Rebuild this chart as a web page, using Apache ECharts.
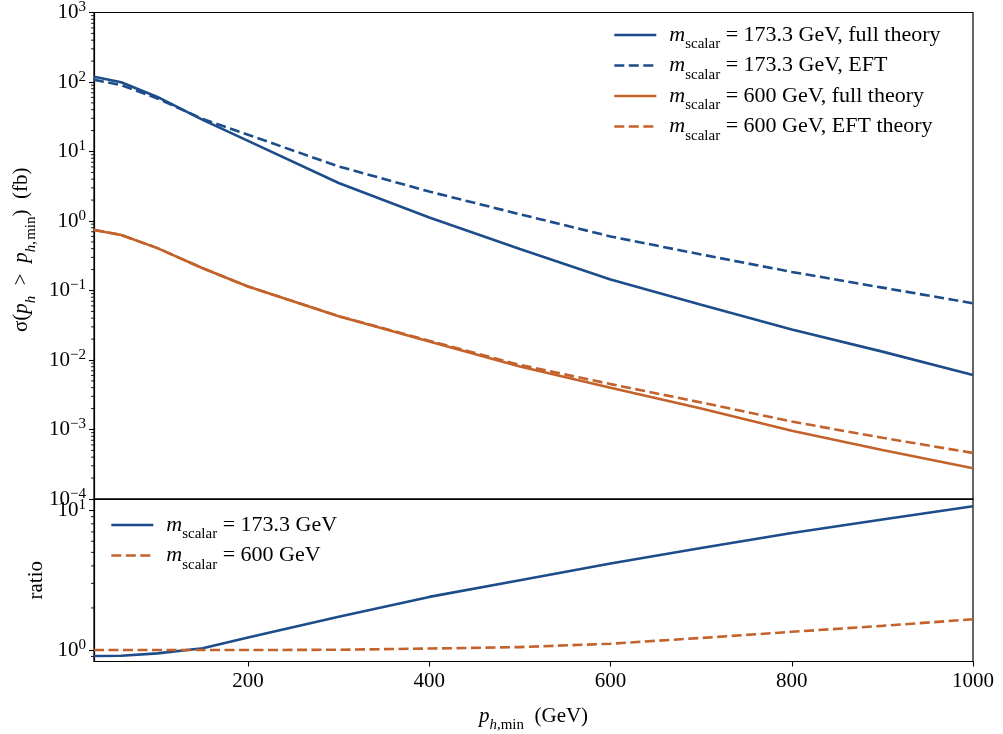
<!DOCTYPE html>
<html><head><meta charset="utf-8">
<script src="https://cdn.jsdelivr.net/npm/echarts@6/dist/echarts.min.js"></script>
<style>html,body{margin:0;padding:0;background:#fff}#c{width:1003px;height:734px}</style>
</head><body><div id="c"></div>
<script>
// ---- data ----
const pT = [30, 60, 100, 150, 200, 300, 400, 500, 600, 700, 800, 900, 1000];
const blueFull   = [119, 99, 61, 28.5, 14.2, 3.52, 1.12, 0.395, 0.144, 0.0625, 0.0275, 0.0132, 0.0061];
const blueEFT    = [108, 90, 58, 29.3, 17.4, 6.1, 2.65, 1.25, 0.60, 0.33, 0.185, 0.110, 0.0655];
const orangeFull = [0.744, 0.63, 0.407, 0.209, 0.114, 0.0427, 0.0184, 0.00807, 0.0040, 0.00201, 0.00096, 0.000507, 0.000277];
const orangeEFT  = [0.745, 0.63, 0.407, 0.209, 0.114, 0.0428, 0.0189, 0.0085, 0.0045, 0.00245, 0.0013, 0.00076, 0.00046];
const ratioBlue   = [0.906, 0.91, 0.947, 1.03, 1.23, 1.73, 2.40, 3.16, 4.16, 5.37, 6.88, 8.6, 10.7];
const ratioOrange = [1.0, 1.0, 1.0, 1.0, 1.0, 1.005, 1.025, 1.05, 1.11, 1.22, 1.35, 1.49, 1.66];
const xTicks = [200, 400, 600, 800, 1000];
const legendTop = {
  bf: '173.3 GeV, full theory',
  be: '173.3 GeV, EFT',
  of: '600 GeV, full theory',
  oe: '600 GeV, EFT theory'
};
const legendBottom = { rb: '173.3 GeV', ro: '600 GeV' };

// ---- styling ----
const F = '"Liberation Serif", "DejaVu Serif", serif';
const BLUE = '#1c4c89';
const ORANGE = '#c3622b';
const LW = 2.6;
const DASH = [10, 4.5];
const FS = 21;
const LFS = 22;

function zip(xs, ys) { return xs.map((x, i) => [x, ys[i]]); }

function makeRich(fs) {
  const ss = Math.round(fs * 0.7);
  return {
    b: { fontFamily: F, fontSize: fs, color: '#000', lineHeight: fs + 4 },
    s: { fontFamily: F, fontSize: ss, color: '#000', verticalAlign: 'top', lineHeight: ss },
    i: { fontFamily: F, fontSize: fs, fontStyle: 'italic', color: '#000' },
    sub: { fontFamily: F, fontSize: ss, color: '#000', verticalAlign: 'bottom', lineHeight: ss, padding: [0, 0, -6, 0] },
    subi: { fontFamily: F, fontSize: ss, fontStyle: 'italic', color: '#000', verticalAlign: 'bottom', lineHeight: ss, padding: [0, 0, -6, 0] },
    t: { fontFamily: F, fontSize: fs, color: '#000' }
  };
}
const richTick = makeRich(FS);
const richLeg = makeRich(LFS);

function powLabel(v) {
  const l = Math.log10(v);
  const n = Math.round(l);
  if (Math.abs(l - n) > 1e-6) return '';
  const e = n < 0 ? '\u2212' + (-n) : '' + n;
  return '{b|10}{s|' + e + '}';
}

function minorVals(lo, hi) {
  const out = [];
  for (let n = lo; n <= hi; n++) {
    for (let k = 2; k <= 9; k++) out.push(k * Math.pow(10, n));
  }
  return out;
}
const minorTop = minorVals(-4, 2).map(v => [30, v]);
const minorBot = [0.9].concat(minorVals(0, 0)).map(v => [30, v]);

function tickRender(params, api) {
  const p = api.coord([api.value(0), api.value(1)]);
  return {
    type: 'line',
    shape: { x1: p[0] - 3, y1: p[1], x2: p[0], y2: p[1] },
    style: { stroke: '#000', lineWidth: 0.9 }
  };
}

const axisLineStyle = { show: true, lineStyle: { color: '#000', width: 1.2 } };
const tickStyle = { show: true, inside: false, length: 5, lineStyle: { color: '#000', width: 1.1 } };

const option = {
  animation: false,
  backgroundColor: '#fff',
  grid: [
    { left: 94, right: 30, top: 8, height: 491, show: true, borderColor: '#000', borderWidth: 1.2, backgroundColor: 'transparent' },
    { left: 94, right: 30, top: 499, height: 162.5, show: true, borderColor: '#000', borderWidth: 1.2, backgroundColor: 'transparent' }
  ],
  xAxis: [
    { gridIndex: 0, type: 'value', min: 30, max: 1000, axisLine: axisLineStyle,
      axisLabel: { show: false }, axisTick: { show: false }, splitLine: { show: false } },
    { gridIndex: 1, type: 'value', min: 30, max: 1000, axisLine: axisLineStyle,
      axisTick: tickStyle,
      axisLabel: { color: '#000', fontFamily: F, fontSize: FS, margin: 9, showMinLabel: false,
        formatter: v => xTicks.indexOf(v) >= 0 ? String(v) : '' },
      splitLine: { show: false },
      name: '{i|p}{subi|h}{sub|,min}{t|\u2002(GeV)}', nameLocation: 'middle', nameGap: 44,
      nameTextStyle: { rich: richTick, fontFamily: F, fontSize: FS, color: '#000' } }
  ],
  yAxis: [
    { gridIndex: 0, type: 'log', logBase: 10, min: 1e-4, max: 1e3, axisLine: axisLineStyle,
      axisTick: tickStyle,
      axisLabel: { formatter: powLabel, rich: richTick, margin: 8 },
      splitLine: { show: false },
      name: '{t|\u03c3(}{i|p}{subi|h}{t|\u2002>\u2002}{i|p}{subi|h}{sub|,\u200amin}{t|)\u2002(fb)}', nameLocation: 'middle', nameGap: 50,
      nameTextStyle: { rich: richTick, fontFamily: F, fontSize: 22, color: '#000', padding: [0, 0, 0, 12] } },
    { gridIndex: 1, type: 'log', logBase: 10, min: 0.828, max: 12.04, axisLine: axisLineStyle,
      axisTick: tickStyle,
      axisLabel: { formatter: powLabel, rich: richTick, margin: 8, showMinLabel: false, showMaxLabel: false },
      splitLine: { show: false },
      name: 'ratio', nameLocation: 'middle', nameGap: 46,
      nameTextStyle: { fontFamily: F, fontSize: FS, color: '#000' } }
  ],
  legend: [
    { data: ['bf', 'be', 'of', 'oe'], left: 613, top: 24, padding: 0, orient: 'vertical', itemWidth: 42, itemHeight: 14, itemGap: 2.5,
      formatter: n => '{i|m}{sub|scalar}{t| = ' + legendTop[n] + '}',
      itemStyle: { opacity: 0 }, lineStyle: { width: LW },
      textStyle: { rich: richLeg, padding: [0, 0, 0, 8] }, selectedMode: false },
    { data: ['rb', 'ro'], left: 110, top: 514, padding: 0, orient: 'vertical', itemWidth: 42, itemHeight: 14, itemGap: 2.5,
      formatter: n => '{i|m}{sub|scalar}{t| = ' + legendBottom[n] + '}',
      itemStyle: { opacity: 0 }, lineStyle: { width: LW },
      textStyle: { rich: richLeg, padding: [0, 0, 0, 8] }, selectedMode: false }
  ],
  series: [
    { name: 'bf', type: 'line', xAxisIndex: 0, yAxisIndex: 0, data: zip(pT, blueFull), symbol: 'none',
      lineStyle: { color: BLUE, width: LW }, itemStyle: { color: BLUE } },
    { name: 'be', type: 'line', xAxisIndex: 0, yAxisIndex: 0, data: zip(pT, blueEFT), symbol: 'none',
      lineStyle: { color: BLUE, width: LW, type: DASH }, itemStyle: { color: BLUE } },
    { name: 'of', type: 'line', xAxisIndex: 0, yAxisIndex: 0, data: zip(pT, orangeFull), symbol: 'none',
      lineStyle: { color: ORANGE, width: LW }, itemStyle: { color: ORANGE } },
    { name: 'oe', type: 'line', xAxisIndex: 0, yAxisIndex: 0, data: zip(pT, orangeEFT), symbol: 'none',
      lineStyle: { color: ORANGE, width: LW, type: DASH }, itemStyle: { color: ORANGE } },
    { name: 'rb', type: 'line', xAxisIndex: 1, yAxisIndex: 1, data: zip(pT, ratioBlue), symbol: 'none',
      lineStyle: { color: BLUE, width: LW }, itemStyle: { color: BLUE } },
    { name: 'ro', type: 'line', xAxisIndex: 1, yAxisIndex: 1, data: zip(pT, ratioOrange), symbol: 'none',
      lineStyle: { color: ORANGE, width: LW, type: DASH }, itemStyle: { color: ORANGE } },
    { name: 'minorTop', type: 'custom', xAxisIndex: 0, yAxisIndex: 0, data: minorTop, renderItem: tickRender,
      clip: false, silent: true, encode: { x: 0, y: 1 } },
    { name: 'minorBot', type: 'custom', xAxisIndex: 1, yAxisIndex: 1, data: minorBot, renderItem: tickRender,
      clip: false, silent: true, encode: { x: 0, y: 1 } }
  ]
};

const chart = echarts.init(document.getElementById('c'), null, { renderer: 'canvas' });
chart.setOption(option);
</script>
</body></html>
